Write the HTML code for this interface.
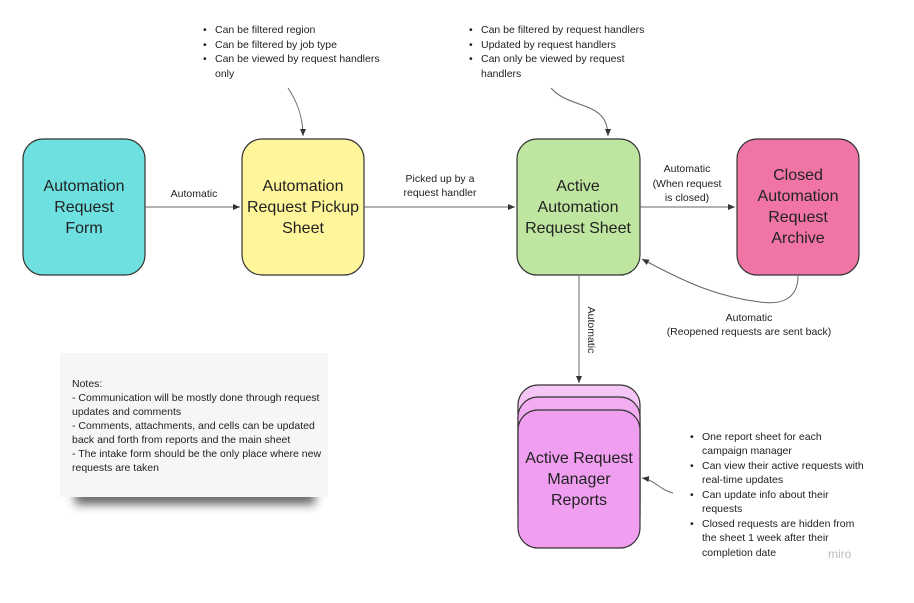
<!DOCTYPE html>
<html><head><meta charset="utf-8"><style>
html,body{margin:0;padding:0;background:#fff;}
svg text{font-family:"Liberation Sans",sans-serif;fill:#222;}
</style></head><body>
<svg width="914" height="598" viewBox="0 0 914 598" xmlns="http://www.w3.org/2000/svg">
<defs>
<marker id="a" markerWidth="8" markerHeight="8" refX="7" refY="4" orient="auto" markerUnits="userSpaceOnUse"><path d="M0,1 L7,4 L0,7 z" fill="#333"/></marker>
<filter id="sh" x="-20%" y="-100%" width="140%" height="300%"><feGaussianBlur stdDeviation="5"/></filter>
</defs>
<!-- note card -->
<rect x="75" y="490" width="240" height="14" fill="#333" filter="url(#sh)" opacity="0.8"/>
<rect x="60" y="353" width="268" height="144" fill="#f6f6f6"/>
<g font-size="10.5">
<text x="72" y="387">Notes:</text>
<text x="72" y="401">- Communication will be mostly done through request</text>
<text x="72" y="415">updates and comments</text>
<text x="72" y="429">- Comments, attachments, and cells can be updated</text>
<text x="72" y="443">back and forth from reports and the main sheet</text>
<text x="72" y="457">- The intake form should be the only place where new</text>
<text x="72" y="471">requests are taken</text>
</g>
<!-- boxes -->
<rect x="23" y="139" width="122" height="136" rx="20" fill="#6ee0e0" stroke="#333" stroke-width="1.2"/>
<rect x="242" y="139" width="122" height="136" rx="20" fill="#fff59b" stroke="#333" stroke-width="1.2"/>
<rect x="517" y="139" width="123" height="136" rx="20" fill="#bfe6a0" stroke="#333" stroke-width="1.2"/>
<rect x="737" y="139" width="122" height="136" rx="20" fill="#f075a6" stroke="#333" stroke-width="1.2"/>
<rect x="518" y="385" width="122" height="136" rx="20" fill="#f6c6f6" stroke="#333" stroke-width="1.2"/>
<rect x="518" y="397" width="122" height="138" rx="20" fill="#f2acf2" stroke="#333" stroke-width="1.2"/>
<rect x="518" y="410" width="122" height="138" rx="20" fill="#f09ef0" stroke="#333" stroke-width="1.2"/>
<g font-size="16" text-anchor="middle">
<text x="84" y="191">Automation</text><text x="84" y="212">Request</text><text x="84" y="233">Form</text>
<text x="303" y="191">Automation</text><text x="303" y="212">Request Pickup</text><text x="303" y="233">Sheet</text>
<text x="578" y="191">Active</text><text x="578" y="212">Automation</text><text x="578" y="233">Request Sheet</text>
<text x="798" y="180">Closed</text><text x="798" y="201">Automation</text><text x="798" y="222">Request</text><text x="798" y="243">Archive</text>
<text x="579" y="463">Active Request</text><text x="579" y="484">Manager</text><text x="579" y="505">Reports</text>
</g>
<!-- connectors -->
<g stroke="#666" stroke-width="1" fill="none">
<path d="M145,207 L240,207" marker-end="url(#a)"/>
<path d="M364,207 L515,207" marker-end="url(#a)"/>
<path d="M640,207 L735,207" marker-end="url(#a)"/>
<path d="M798,276 C798,300 780,305 760,302 C720,297 690,285 642,259" marker-end="url(#a)"/>
<path d="M579,275 L579,383" marker-end="url(#a)"/>
<path d="M288,88 C296,100 303,115 303,136" marker-end="url(#a)"/>
<path d="M551,88 C570,110 608,100 608,136" marker-end="url(#a)"/>
<path d="M673,493 C660,490 655,480 642,478" marker-end="url(#a)"/>
</g>
<g font-size="10.5" text-anchor="middle">
<text x="194" y="197">Automatic</text>
<text x="440" y="182">Picked up by a</text><text x="440" y="196">request handler</text>
<text x="687" y="172">Automatic</text><text x="687" y="187">(When request</text><text x="687" y="201">is closed)</text>
<text x="749" y="321">Automatic</text><text x="749" y="335">(Reopened requests are sent back)</text>
<text transform="translate(588,330) rotate(90)" text-anchor="middle">Automatic</text>
</g>
<g font-size="10.5">
<text x="203" y="33">•</text><text x="215" y="33">Can be filtered region</text>
<text x="203" y="48">•</text><text x="215" y="48">Can be filtered by job type</text>
<text x="203" y="62">•</text><text x="215" y="62">Can be viewed by request handlers</text>
<text x="215" y="77">only</text>
<text x="469" y="33">•</text><text x="481" y="33">Can be filtered by request handlers</text>
<text x="469" y="48">•</text><text x="481" y="48">Updated by request handlers</text>
<text x="469" y="62">•</text><text x="481" y="62">Can only be viewed by request</text>
<text x="481" y="77">handlers</text>
<text x="690" y="440">•</text><text x="702" y="440">One report sheet for each</text>
<text x="702" y="454">campaign manager</text>
<text x="690" y="469">•</text><text x="702" y="469">Can view their active requests with</text>
<text x="702" y="483">real-time updates</text>
<text x="690" y="498">•</text><text x="702" y="498">Can update info about their</text>
<text x="702" y="512">requests</text>
<text x="690" y="527">•</text><text x="702" y="527">Closed requests are hidden from</text>
<text x="702" y="541">the sheet 1 week after their</text>
<text x="702" y="556">completion date</text>
</g>
<text x="828" y="558" font-size="12" style="fill:#bbb">miro</text>
</svg>
</body></html>
